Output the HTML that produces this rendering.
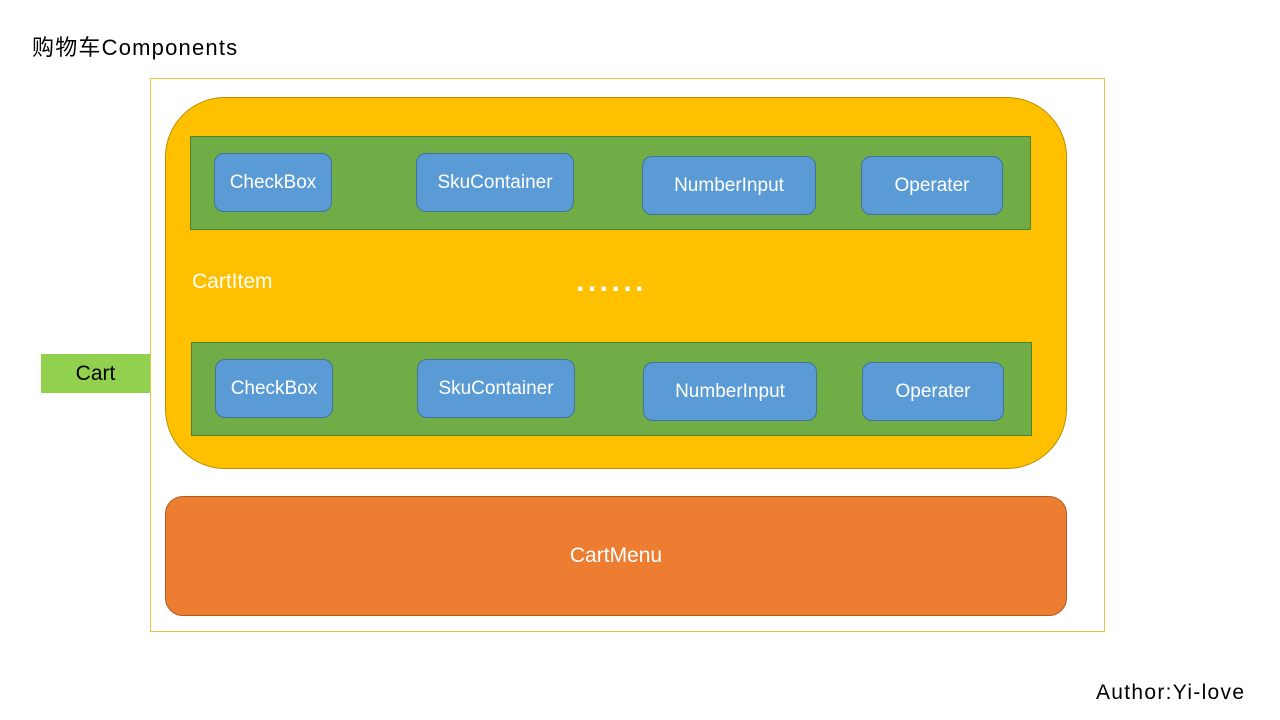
<!DOCTYPE html>
<html><head><meta charset="utf-8"><style>
body{margin:0;width:1280px;height:720px;background:#fff;position:relative;font-family:"Liberation Sans","Noto Sans CJK SC",sans-serif;overflow:hidden}
div{position:absolute;box-sizing:border-box}
.b{background:#5b9bd5;border:1px solid #41719c;border-radius:10px;color:#fff;font-size:19px;display:flex;align-items:center;justify-content:center}
.g{background:#70ad47;border:1px solid #507e32}
</style></head><body>
<div style="left:32px;top:30px;font-size:22px;color:#000;letter-spacing:1.2px">购物车Components</div>
<div style="left:150px;top:78px;width:955px;height:554px;border:1px solid #e6c440"></div>
<div style="left:41px;top:354px;width:109px;height:39px;background:#92d050;font-size:21px;display:flex;align-items:center;justify-content:center;color:#000">Cart</div>
<div style="left:165px;top:97px;width:902px;height:372px;background:#ffc000;border:1px solid #bc8c00;border-radius:60px"></div>
<div class="g" style="left:190px;top:136px;width:841px;height:94px"></div>
<div class="g" style="left:191px;top:342px;width:841px;height:94px"></div>
<div class="b" style="left:214px;top:153px;width:118px;height:59px">CheckBox</div>
<div class="b" style="left:416px;top:153px;width:158px;height:59px">SkuContainer</div>
<div class="b" style="left:642px;top:156px;width:174px;height:59px">NumberInput</div>
<div class="b" style="left:861px;top:156px;width:142px;height:59px">Operater</div>
<div class="b" style="left:215px;top:359px;width:118px;height:59px">CheckBox</div>
<div class="b" style="left:417px;top:359px;width:158px;height:59px">SkuContainer</div>
<div class="b" style="left:643px;top:362px;width:174px;height:59px">NumberInput</div>
<div class="b" style="left:862px;top:362px;width:142px;height:59px">Operater</div>
<div style="left:192px;top:270px;font-size:21px;color:#fff">CartItem</div>
<div style="left:576px;top:265px;font-size:30px;color:#fff;font-weight:bold;letter-spacing:3.5px">......</div>
<div style="left:165px;top:496px;width:902px;height:120px;background:#ed7d31;border:1px solid #ae5a21;border-radius:18px;color:#fff;font-size:21px;display:flex;align-items:center;justify-content:center">CartMenu</div>
<div style="left:1096px;top:681px;font-size:21px;color:#000;letter-spacing:1.3px">Author:Yi-love</div>
</body></html>
